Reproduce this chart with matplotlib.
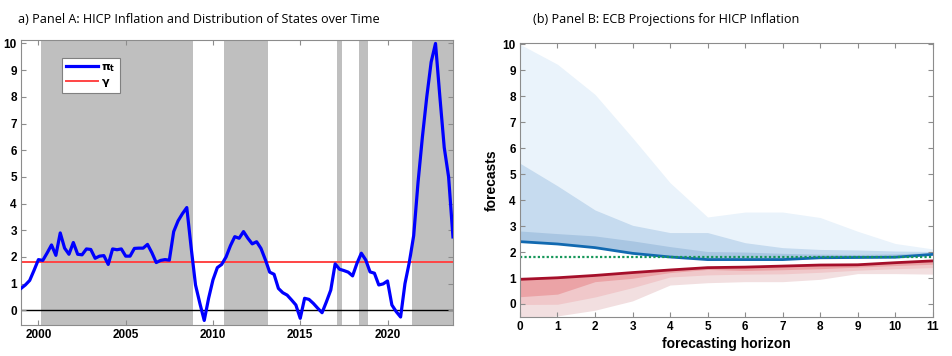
import matplotlib
matplotlib.use("Agg")
import matplotlib.pyplot as plt
import numpy as np

# ---- Panel A: quarterly HICP inflation, 1999Q1 - 2023Q4
START_YEAR = 1999.0
hicp = [
    0.82, 0.95, 1.12, 1.50,   # 1999
    1.90, 1.87, 2.15, 2.45,   # 2000
    2.06, 2.90, 2.33, 2.10,   # 2001
    2.54, 2.10, 2.08, 2.30,   # 2002
    2.28, 1.95, 2.03, 2.05,   # 2003
    1.72, 2.30, 2.27, 2.30,   # 2004
    2.03, 2.03, 2.32, 2.33,   # 2005
    2.33, 2.47, 2.16, 1.79,   # 2006
    1.87, 1.90, 1.88, 2.95,   # 2007
    3.35, 3.62, 3.85, 2.35,   # 2008
    0.95, 0.26, -0.38, 0.45,  # 2009
    1.14, 1.60, 1.72, 2.00,   # 2010
    2.42, 2.76, 2.70, 2.95,   # 2011
    2.70, 2.49, 2.57, 2.32,   # 2012
    1.90, 1.43, 1.35, 0.82,   # 2013
    0.66, 0.57, 0.39, 0.20,   # 2014
    -0.30, 0.45, 0.41, 0.26,  # 2015
    0.08, -0.09, 0.32, 0.76,  # 2016
    1.74, 1.54, 1.49, 1.43,   # 2017
    1.29, 1.76, 2.14, 1.89,   # 2018
    1.44, 1.39, 0.95, 0.99,   # 2019
    1.10, 0.20, -0.05, -0.25, # 2020
    1.00, 1.80, 2.80, 4.80,   # 2021
    6.50, 8.00, 9.30, 10.00,  # 2022
    8.00, 6.10, 5.00, 2.75,   # 2023
]
gamma = 1.8
# first and last quarter of each shaded state period
shaded_periods = [(2000.25, 2008.75), (2010.75, 2013.0), (2017.25, 2017.25),
                  (2018.5, 2018.75), (2021.5, 2023.75)]

# ---- Panel B: ECB projections fan chart
horizon = list(range(12))
blue_median = [2.40, 2.31, 2.17, 1.95, 1.81, 1.71, 1.71, 1.71, 1.78, 1.79, 1.80, 1.91]
blue_inner = [2.81, 2.71, 2.62, 2.43, 2.21, 2.02, 2.00, 1.95, 1.92, 1.91, 1.93, 1.98]
blue_mid = [5.42, 4.55, 3.62, 3.03, 2.75, 2.75, 2.36, 2.17, 2.10, 2.08, 2.04, 2.02]
blue_outer = [10.0, 9.23, 8.07, 6.40, 4.67, 3.35, 3.54, 3.54, 3.33, 2.80, 2.33, 2.12]
red_median = [0.95, 1.01, 1.10, 1.21, 1.31, 1.40, 1.42, 1.46, 1.50, 1.51, 1.59, 1.66]
red_inner = [0.28, 0.38, 0.86, 0.99, 1.21, 1.33, 1.29, 1.32, 1.36, 1.42, 1.48, 1.53]
red_mid = [-0.02, -0.01, 0.27, 0.63, 1.04, 1.12, 1.15, 1.16, 1.22, 1.30, 1.36, 1.40]
red_outer = [-0.60, -0.46, -0.24, 0.12, 0.73, 0.82, 0.86, 0.86, 0.95, 1.17, 1.17, 1.15]

SPINE = "#8c8c8c"
plt.rcParams["font.family"] = ["Liberation Sans", "DejaVu Sans"]


def style_axes(ax):
    for s in ax.spines.values():
        s.set_color(SPINE)
        s.set_linewidth(0.8)
    ax.tick_params(direction="in", top=True, right=True, length=3.5,
                   color=SPINE, labelsize=8.5, pad=3)
    for lab in ax.get_xticklabels() + ax.get_yticklabels():
        lab.set_fontweight("bold")


fig = plt.figure(figsize=(9.53, 3.56), dpi=100)

# ---------------- Panel A
ax1 = fig.add_axes([0.022, 0.0871, 0.4533, 0.8006])
t = START_YEAR + 0.25 * np.arange(len(hicp))
for a, b in shaded_periods:
    ax1.axvspan(a - 0.125, b + 0.125, color="#bfbfbf", lw=0, zorder=0)
ax1.axhline(0, color="black", lw=1.0, zorder=1)
ax1.plot(t, hicp, color="#0000ff", lw=2.3, label=r"$\mathbf{\pi}_\mathbf{t}$", zorder=3)
ax1.axhline(gamma, color="#ff4444", lw=1.4, label=r"$\mathbf{\gamma}$", zorder=2)
ax1.set_xlim(1999.0, 2023.75)
ax1.set_ylim(-0.55, 10.13)
ax1.set_xticks([2000, 2005, 2010, 2015, 2020])
ax1.set_yticks(range(0, 11))
style_axes(ax1)
leg = ax1.legend(loc="upper left", bbox_to_anchor=(0.082, 0.955), fontsize=8,
                 handlelength=2.9, handletextpad=0.3, borderpad=0.35,
                 labelspacing=0.3, fancybox=False, framealpha=1,
                 edgecolor="#808080")
leg.get_frame().set_linewidth(0.8)
fig.text(0.019, 0.944, "a) Panel A: HICP Inflation and Distribution of States over Time",
         fontsize=9.1, family="Open Sans", va="center", ha="left")

# ---------------- Panel B
ax2 = fig.add_axes([0.5456, 0.1096, 0.4331, 0.7697])
ax2.fill_between(horizon, blue_median, blue_outer, color="#eaf3fb", lw=0)
ax2.fill_between(horizon, blue_median, blue_mid, color="#c6dbef", lw=0)
ax2.fill_between(horizon, blue_median, blue_inner, color="#a9c6e2", lw=0)
ax2.fill_between(horizon, red_outer, red_median, color="#f2dfe0", lw=0)
ax2.fill_between(horizon, red_mid, red_median, color="#f0c8ca", lw=0)
ax2.fill_between(horizon, red_inner, red_median, color="#eba3a6", lw=0)
ax2.plot(horizon, blue_median, color="#1169b0", lw=2.0)
ax2.plot(horizon, red_median, color="#a50f2a", lw=2.0)
ax2.axhline(gamma, color="#17975a", lw=1.6, ls=(0, (1, 1)))
ax2.set_xlim(0, 11)
ax2.set_ylim(-0.5, 10.05)
ax2.set_xticks(horizon)
ax2.set_yticks(range(0, 11))
style_axes(ax2)
ax2.set_xlabel("forecasting horizon", fontsize=10, fontweight="bold", labelpad=3)
ax2.set_ylabel("forecasts", fontsize=10, fontweight="bold", labelpad=3)
fig.text(0.559, 0.944, "(b) Panel B: ECB Projections for HICP Inflation",
         fontsize=9.1, family="Open Sans", va="center", ha="left")

fig.savefig("out.png", dpi=100)
